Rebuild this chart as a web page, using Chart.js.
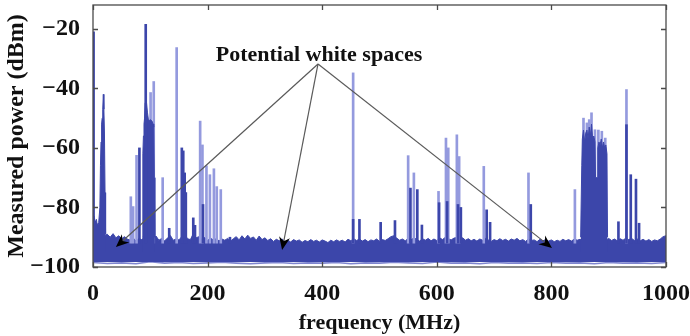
<!DOCTYPE html>
<html><head><meta charset="utf-8">
<script src="https://cdn.jsdelivr.net/npm/chart.js@4.4.1/dist/chart.umd.min.js"></script>
<style>html,body{margin:0;padding:0;background:#fff}#wrap{width:690px;height:336px}</style>
</head><body><div id="wrap"><canvas id="c" width="690" height="336"></canvas></div>
<script>
// ---- tick labels ----
const xTicks = [0, 200, 400, 600, 800, 1000];
const yTicks = [-100, -80, -60, -40, -20];

// ---- noise floor (upper edge of the dense band), MHz / dBm ----
const floorFreq = [0,5,10,15,20,25,30,35,40,45,50,55,60,65,70,75,80,85,90,95,100,105,110,115,120,125,130,135,140,145,150,155,160,165,170,175,180,185,190,195,200,205,210,215,220,225,230,235,240,245,250,255,260,265,270,275,280,285,290,295,300,305,310,315,320,325,330,335,340,345,350,355,360,365,370,375,380,385,390,395,400,405,410,415,420,425,430,435,440,445,450,455,460,465,470,475,480,485,490,495,500,505,510,515,520,525,530,535,540,545,550,555,560,565,570,575,580,585,590,595,600,605,610,615,620,625,630,635,640,645,650,655,660,665,670,675,680,685,690,695,700,705,710,715,720,725,730,735,740,745,750,755,760,765,770,775,780,785,790,795,800,805,810,815,820,825,830,835,840,845,850,855,860,865,870,875,880,885,890,895,900,905,910,915,920,925,930,935,940,945,950,955,960,965,970,975,980,985,990,995,1000];
const floorTop = [-84,-85,-86,-88,-89.5,-89,-90,-88.8,-90.2,-89.5,-90.5,-89.8,-90.6,-91,-90.2,-91.3,-90.5,-90.8,-90,-90.5,-90.2,-90.8,-89.6,-91,-90.4,-91.2,-90.3,-89.4,-91,-90.6,-90.9,-89.8,-89,-90.5,-90.8,-88.8,-90.2,-89.8,-90.7,-90.1,-91.1,-90.3,-90.9,-90.5,-91.2,-90.6,-91,-90.4,-91.3,-90.5,-89.8,-90.9,-89.5,-90.6,-89.3,-90.4,-89.9,-91,-89.6,-90.8,-90.2,-91.1,-90.5,-91.4,-90.7,-91.2,-90.6,-91.5,-91,-91.6,-90.8,-91.3,-90.9,-91.7,-91.1,-91.5,-90.8,-91.4,-91,-91.6,-90.9,-91.3,-91.8,-91,-91.5,-90.9,-91.4,-91,-91.6,-90.7,-91.2,-90.5,-91.1,-90.6,-91.3,-90.8,-91.5,-90.9,-91.2,-90.6,-91.4,-90.8,-91.1,-90.5,-89.8,-89.5,-90.3,-91,-90.6,-91.2,-90.4,-90.9,-90.2,-90.7,-91.3,-90.5,-91,-90.4,-91.2,-90.6,-91.1,-90.2,-90.8,-90,-90.5,-90.9,-90.3,-90.1,-90.6,-90.2,-91,-90.5,-91.2,-90.7,-91.3,-90.6,-91,-90.4,-90.9,-91.4,-90.8,-91.2,-90.5,-91.1,-90.7,-91.3,-90.6,-91,-90.4,-91.2,-90.8,-91.4,-90.6,-91.1,-90.9,-91.5,-90.7,-91.2,-90.8,-91.3,-90.9,-91.5,-91,-91.4,-90.7,-91.2,-90.8,-91.3,-90.6,-91,-90.7,-91,-91,-91,-91,-91,-91,-91,-91,-91,-90.4,-91.1,-90.6,-91.2,-90.5,-91,-90.3,-90.8,-90.4,-91.1,-90.6,-91.2,-90.7,-91.3,-90.8,-91.4,-90.9,-91.2,-90.6,-89.8,-89.5];
const floorBase = -98.3;

// ---- lighter lower fringe of the band ----
const fringeFreq = [0,25,50,75,100,125,150,175,200,225,250,275,300,325,350,375,400,425,450,475,500,525,550,575,600,625,650,675,700,725,750,775,800,825,850,875,900,925,950,975,1000];
const fringeVal = [-98.5,-98.8,-98.6,-98.9,-98.2,-98.7,-98.5,-98.8,-98.6,-98.4,-98.7,-98.9,-98.6,-98.5,-98.8,-98.6,-98.7,-98.5,-98.9,-98.6,-98.7,-98.4,-98.6,-98.8,-98.3,-98.7,-98.6,-98.9,-98.5,-98.7,-98.6,-98.8,-98.5,-98.7,-98.6,-98.9,-98.5,-98.7,-98.6,-98.8,-98.5];

// ---- dense occupied bands ----
const band1Freq = [0,2,4,6,8,10,12,13,14,15,16,17,18,19,20,21,22];
const band1Top  = [-84,-83,-85,-84,-87,-85,-80,-66,-58,-52,-50,-47,-42,-47,-55,-75,-89];
const band2Freq = [86,87,88,89,90,91,93,95,97,100,103,105,106,107,108];
const band2Top  = [-90,-62,-56,-52,-50,-45,-44,-48,-51,-50.5,-51,-52,-53,-70,-90];
const band3Freq = [851,853,854,856,858,860,862,864,866,868,870,872,874,876,877,880,881,883,885,887,889,891,893,895,897,898];
const band3Top  = [-90,-66,-57,-54,-58,-55,-54,-57,-53,-56,-52,-57,-56,-58,-70,-70,-60,-58,-59,-57,-60,-58,-60,-59,-62,-90];

// ---- narrow carriers (peaks) ----
const lightFreq = [66,70,76,100.5,106,121.6,146,187,191,198,204,211,216,223,454,550,560,603,616,620,635,639,682,760,841,856,862,866,870,876,882,888,894,931];
const lightTop  = [-76.4,-79.7,-62.5,-41.4,-37.7,-70,-26.3,-51,-59,-66,-69,-67,-73,-74,-34.8,-62.6,-68.4,-74.6,-56.7,-60,-55.6,-62.9,-66.2,-68.4,-74,-50,-51.6,-50.5,-48.2,-53.9,-54,-54.4,-56.7,-40.4];
const darkFreq = [1,81,92,133,155,157.5,160,162,175,178,192,239,454,465,502,527,554,566,574,604,618,637,642,687,693,764,917,931,938.5,947.6,953];
const darkTop  = [-21,-60,-18.5,-87,-60,-61,-68.4,-75,-83.5,-86,-79,-90,-84,-84,-85,-84.4,-73.5,-74,-85.9,-78.4,-78,-79,-80,-80.8,-85,-79,-84.8,-52.2,-69,-70.5,-85.3];
const spikeBase = -92;

// ---- annotation ----
const noteText = 'Potential white spaces';
const noteAt = [394.4, -28.8];
const arrowFrom = [392.7, -31.8];
const arrowTipFreq = [40, 330, 801];
const arrowTipPower = [-93.3, -94.3, -93.6];

const DARK = '#3c46aa', LIGHT = '#949ade', FRINGE = '#7e85cf';
const FONT = "'Liberation Serif','Times New Roman',serif";

const pts = (xs, ys) => xs.map((x, i) => ({x: x, y: ys[i]}));
const bars = (xs, ys, b) => xs.map((x, i) => ({x: x, y: [b, ys[i]]}));

const boxPlugin = {
  id: 'box',
  afterDatasetsDraw(chart) {
    const {ctx, chartArea: a, scales: {x, y}} = chart;
    ctx.save();
    ctx.strokeStyle = '#4a4a4a';
    ctx.lineWidth = 1.3;
    ctx.strokeRect(a.left, a.top, a.right - a.left, a.bottom - a.top);
    ctx.beginPath();
    const L = 5;
    xTicks.forEach(v => {
      const px = Math.round(x.getPixelForValue(v)) + 0.5;
      ctx.moveTo(px, a.bottom); ctx.lineTo(px, a.bottom - L);
      ctx.moveTo(px, a.top); ctx.lineTo(px, a.top + L);
    });
    yTicks.forEach(v => {
      const py = Math.round(y.getPixelForValue(v)) + 0.5;
      ctx.moveTo(a.left, py); ctx.lineTo(a.left + L, py);
      ctx.moveTo(a.right, py); ctx.lineTo(a.right - L, py);
    });
    ctx.stroke();
    ctx.restore();
  }
};

const notePlugin = {
  id: 'note',
  afterDraw(chart) {
    const {ctx, scales: {x, y}} = chart;
    ctx.save();
    const ax = x.getPixelForValue(arrowFrom[0]), ay = y.getPixelForValue(arrowFrom[1]);
    arrowTipFreq.forEach((f, i) => {
      const tx = x.getPixelForValue(f), ty = y.getPixelForValue(arrowTipPower[i]);
      const dx = tx - ax, dy = ty - ay, len = Math.hypot(dx, dy);
      const ux = dx / len, uy = dy / len, nx = -uy, ny = ux;
      const head = 13, half = 5.5, notch = 9;
      ctx.strokeStyle = '#5a5a5a';
      ctx.lineWidth = 1.2;
      ctx.beginPath();
      ctx.moveTo(ax, ay);
      ctx.lineTo(tx - ux * notch, ty - uy * notch);
      ctx.stroke();
      ctx.fillStyle = '#000';
      ctx.beginPath();
      ctx.moveTo(tx, ty);
      ctx.lineTo(tx - ux * head + nx * half, ty - uy * head + ny * half);
      ctx.lineTo(tx - ux * notch, ty - uy * notch);
      ctx.lineTo(tx - ux * head - nx * half, ty - uy * head - ny * half);
      ctx.closePath();
      ctx.fill();
    });
    ctx.fillStyle = '#111';
    ctx.font = "bold 22px " + FONT;
    ctx.textAlign = 'center';
    ctx.textBaseline = 'middle';
    ctx.fillText(noteText, x.getPixelForValue(noteAt[0]), y.getPixelForValue(noteAt[1]));
    ctx.restore();
  }
};

const lineDs = (data, extra) => Object.assign({
  type: 'line', data: data, borderColor: DARK, backgroundColor: DARK,
  borderWidth: 1, pointRadius: 0, tension: 0, fill: false
}, extra);

const fmt = v => String(v).replace('-', '\u2212');

new Chart(document.getElementById('c'), {
  data: {
    datasets: [
      lineDs(pts(fringeFreq, fringeVal), {borderColor: FRINGE, borderWidth: 1.6, order: 6}),
      lineDs(pts(floorFreq, floorTop), {fill: {value: floorBase}, order: 5}),
      {type: 'bar', data: bars(lightFreq, lightTop, spikeBase), backgroundColor: LIGHT,
       barThickness: 2, grouped: false, order: 4},
      lineDs(pts(band1Freq, band1Top), {fill: {value: -95}, order: 3}),
      lineDs(pts(band2Freq, band2Top), {fill: {value: -95}, order: 3}),
      lineDs(pts(band3Freq, band3Top), {fill: {value: -95}, order: 3}),
      {type: 'bar', data: bars(darkFreq, darkTop, spikeBase), backgroundColor: DARK,
       barThickness: 2, grouped: false, order: 1}
    ]
  },
  options: {
    responsive: false, animation: false, devicePixelRatio: 1,
    layout: {padding: {top: 5, right: 24, left: 0, bottom: 0}},
    plugins: {legend: {display: false}, tooltip: {enabled: false}},
    scales: {
      x: {
        type: 'linear', min: 0, max: 1000, offset: false,
        afterBuildTicks: s => { s.ticks = xTicks.map(v => ({value: v})); },
        ticks: {font: {family: FONT, size: 24, weight: 'bold'}, color: '#111', padding: 4,
                maxRotation: 0, autoSkip: false, callback: fmt},
        grid: {display: false}, border: {display: false},
        title: {display: true, text: 'frequency (MHz)', color: '#111',
                font: {family: FONT, size: 22, weight: 'bold', lineHeight: 1}, padding: {top: 0, bottom: 2}},
        afterFit: s => { s.height = 69; s.paddingLeft = 0; s.paddingRight = 0; }
      },
      y: {
        type: 'linear', min: -100, max: -12,
        afterBuildTicks: s => { s.ticks = yTicks.map(v => ({value: v})); },
        ticks: {font: {family: FONT, size: 24, weight: 'bold'}, color: '#111', padding: 5, callback: fmt},
        grid: {display: false}, border: {display: false},
        title: {display: true, text: 'Measured power (dBm)', color: '#111',
                font: {family: FONT, size: 24, weight: 'bold', lineHeight: 1}, padding: {top: 5, bottom: 0}},
        afterFit: s => { s.width = 93; s.paddingTop = 0; s.paddingBottom = 0; }
      }
    }
  },
  plugins: [boxPlugin, notePlugin]
});
</script>
</body></html>
